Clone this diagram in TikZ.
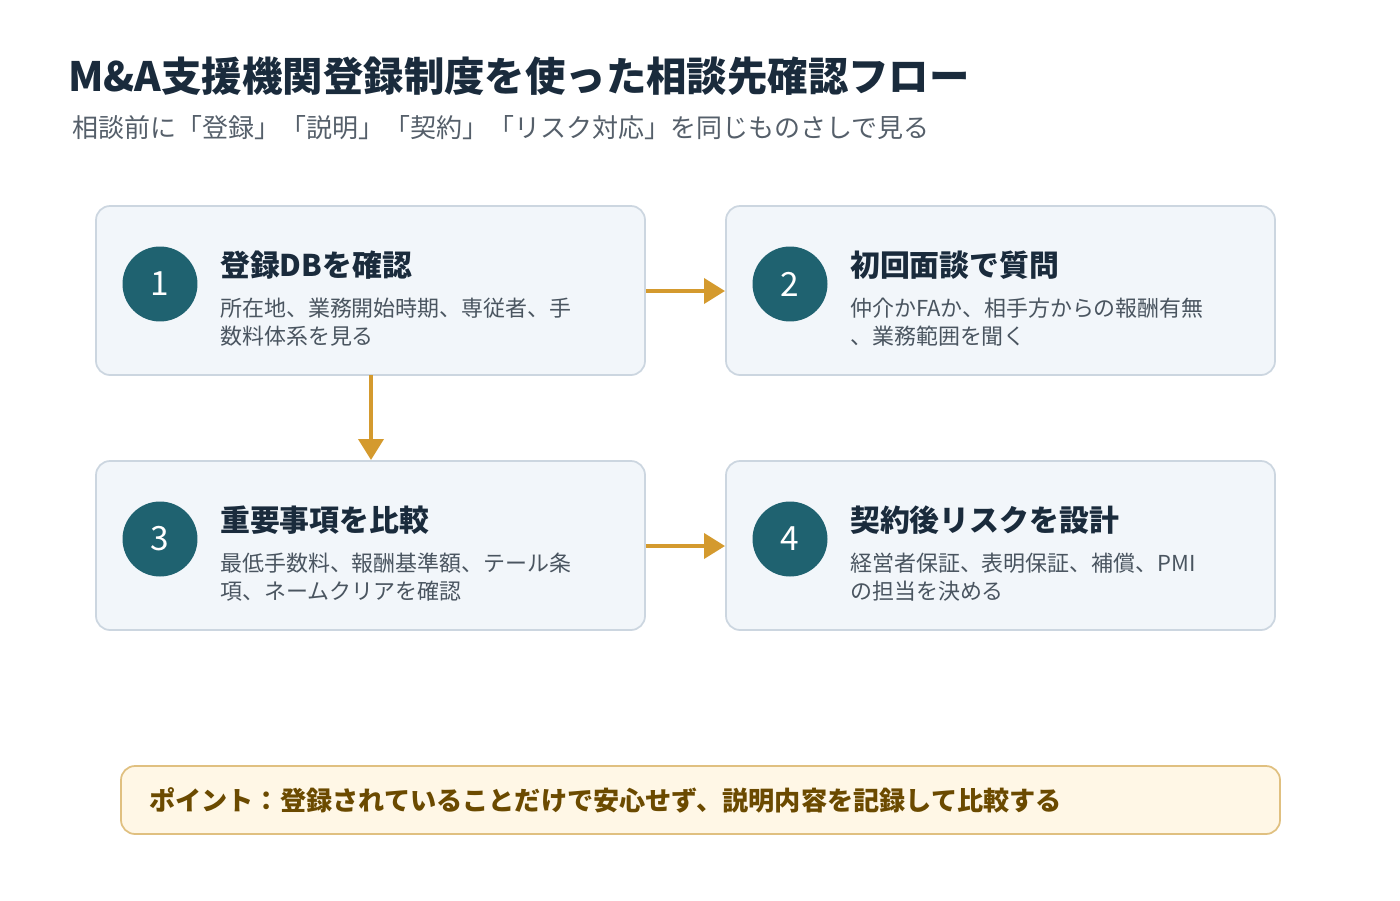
\documentclass[tikz,border=0pt]{standalone}
\usepackage{fontspec}
\setmainfont{Noto Sans CJK JP}
\usetikzlibrary{arrows.meta}
\definecolor{navy}{HTML}{1A2B3C}
\definecolor{teal}{HTML}{1F6270}
\definecolor{boxfill}{HTML}{F2F6FA}
\definecolor{boxline}{HTML}{CCD6E0}
\definecolor{gold}{HTML}{D49A2E}
\definecolor{subg}{HTML}{555F6A}
\definecolor{bodyg}{HTML}{4A5560}
\definecolor{notefill}{HTML}{FFF7E6}
\definecolor{noteline}{HTML}{E0C080}
\definecolor{notetext}{HTML}{6B4A00}
\begin{document}
\begin{tikzpicture}[x=0.02cm,y=-0.02cm,
  card/.style={draw=boxline,fill=boxfill,line width=1pt,rounded corners=8pt},
  num/.style={circle,fill=teal,minimum size=1.5cm,text=white,font=\fontsize{19}{19}\selectfont},
  head/.style={anchor=west,text=navy,font=\fontsize{17}{20}\selectfont\bfseries},
  body/.style={anchor=north west,text=bodyg,align=left,font=\fontsize{12.5}{16}\selectfont},
  flow/.style={draw=gold,line width=2.8pt,-{Triangle[length=12pt,width=14pt]}}]
\useasboundingbox (0,0) rectangle (1400,900);
\node[anchor=west,text=navy,font=\fontsize{23}{26}\selectfont\bfseries] (t) at (62,76) {M\&A支援機関登録制度を使った相談先確認フロー};
\node[anchor=west,text=subg,font=\fontsize{14.8}{17}\selectfont] (s) at (66,128) {相談前に「登録」「説明」「契約」「リスク対応」を同じものさしで見る};
\node[card,minimum width=549*0.02cm,minimum height=169*0.02cm] (b1) at (370.5,290.5) {};
\node[card,minimum width=549*0.02cm,minimum height=169*0.02cm] (b2) at (1000.5,290.5) {};
\node[card,minimum width=549*0.02cm,minimum height=169*0.02cm] (b3) at (370.5,545.5) {};
\node[card,minimum width=549*0.02cm,minimum height=169*0.02cm] (b4) at (1000.5,545.5) {};
\node[num] (n1) at (160,284) {1};
\node[num] (n2) at (790,284) {2};
\node[num] (n3) at (160,539) {3};
\node[num] (n4) at (790,539) {4};
\node[head] (h1) at (214,265) {登録DBを確認};
\node[body] (d1) at (214,292) {所在地、業務開始時期、専従者、手\\数料体系を見る};
\node[head] (h2) at (844,265) {初回面談で質問};
\node[body] (d2) at (844,292) {仲介かFAか、相手方からの報酬有無\\、業務範囲を聞く};
\node[head] (h3) at (214,520) {重要事項を比較};
\node[body] (d3) at (214,547) {最低手数料、報酬基準額、テール条\\項、ネームクリアを確認};
\node[head] (h4) at (844,520) {契約後リスクを設計};
\node[body] (d4) at (844,547) {経営者保証、表明保証、補償、PMI\\の担当を決める};
\draw[flow] (b1.east|-0,291) -- (b2.west|-0,291);
\draw[flow] (b3.east|-0,546) -- (b4.west|-0,546);
\draw[flow] (371,375) -- (b3.north-|371,0);
\node[draw=noteline,fill=notefill,line width=1pt,rounded corners=8pt,minimum width=1159*0.02cm,minimum height=68*0.02cm] (nb) at (700.5,800) {};
\node[anchor=west,text=notetext,font=\fontsize{14.9}{17}\selectfont\bfseries] (nt) at (143,800) {ポイント：登録されていることだけで安心せず、説明内容を記録して比較する};
\end{tikzpicture}
\end{document}
